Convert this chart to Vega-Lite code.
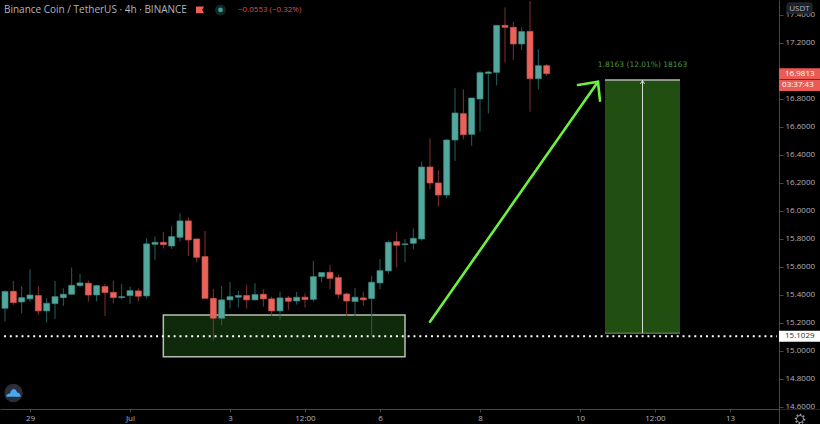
{
  "$schema": "https://vega.github.io/schema/vega-lite/v6.json",
  "width": 820,
  "height": 424,
  "padding": 0,
  "autosize": {"type": "none"},
  "background": "#000000",
  "config": {"view": {"stroke": null}, "text": {"font": "Open Sans"}},
  "datasets": {
    "candles": [
      {"t":"2020-06-28T12:00Z","open":15.303,"high":15.434,"low":15.208,"close":15.422},
      {"t":"2020-06-28T16:00Z","open":15.424,"high":15.498,"low":15.327,"close":15.344},
      {"t":"2020-06-28T20:00Z","open":15.348,"high":15.458,"low":15.267,"close":15.379},
      {"t":"2020-06-29T00:00Z","open":15.370,"high":15.582,"low":15.351,"close":15.398},
      {"t":"2020-06-29T04:00Z","open":15.394,"high":15.463,"low":15.255,"close":15.284},
      {"t":"2020-06-29T08:00Z","open":15.284,"high":15.374,"low":15.201,"close":15.339},
      {"t":"2020-06-29T12:00Z","open":15.336,"high":15.498,"low":15.227,"close":15.386},
      {"t":"2020-06-29T16:00Z","open":15.379,"high":15.446,"low":15.320,"close":15.403},
      {"t":"2020-06-29T20:00Z","open":15.403,"high":15.594,"low":15.398,"close":15.467},
      {"t":"2020-06-30T00:00Z","open":15.465,"high":15.548,"low":15.453,"close":15.484},
      {"t":"2020-06-30T04:00Z","open":15.482,"high":15.501,"low":15.351,"close":15.398},
      {"t":"2020-06-30T08:00Z","open":15.398,"high":15.470,"low":15.351,"close":15.465},
      {"t":"2020-06-30T12:00Z","open":15.458,"high":15.477,"low":15.248,"close":15.415},
      {"t":"2020-06-30T16:00Z","open":15.417,"high":15.501,"low":15.339,"close":15.379},
      {"t":"2020-06-30T20:00Z","open":15.379,"high":15.477,"low":15.367,"close":15.386},
      {"t":"2020-07-01T00:00Z","open":15.394,"high":15.458,"low":15.334,"close":15.429},
      {"t":"2020-07-01T04:00Z","open":15.427,"high":15.446,"low":15.351,"close":15.389},
      {"t":"2020-07-01T08:00Z","open":15.391,"high":15.803,"low":15.372,"close":15.763},
      {"t":"2020-07-01T12:00Z","open":15.760,"high":15.815,"low":15.648,"close":15.774},
      {"t":"2020-07-01T16:00Z","open":15.774,"high":15.848,"low":15.729,"close":15.758},
      {"t":"2020-07-01T20:00Z","open":15.748,"high":15.891,"low":15.727,"close":15.815},
      {"t":"2020-07-02T00:00Z","open":15.810,"high":15.981,"low":15.779,"close":15.927},
      {"t":"2020-07-02T04:00Z","open":15.927,"high":15.953,"low":15.677,"close":15.791},
      {"t":"2020-07-02T08:00Z","open":15.798,"high":15.800,"low":15.632,"close":15.667},
      {"t":"2020-07-02T12:00Z","open":15.672,"high":15.855,"low":15.374,"close":15.374},
      {"t":"2020-07-02T16:00Z","open":15.374,"high":15.441,"low":15.072,"close":15.232},
      {"t":"2020-07-02T20:00Z","open":15.232,"high":15.463,"low":15.182,"close":15.363},
      {"t":"2020-07-03T00:00Z","open":15.363,"high":15.491,"low":15.301,"close":15.386},
      {"t":"2020-07-03T04:00Z","open":15.382,"high":15.427,"low":15.308,"close":15.394},
      {"t":"2020-07-03T08:00Z","open":15.394,"high":15.470,"low":15.301,"close":15.363},
      {"t":"2020-07-03T12:00Z","open":15.363,"high":15.482,"low":15.363,"close":15.401},
      {"t":"2020-07-03T16:00Z","open":15.403,"high":15.439,"low":15.315,"close":15.370},
      {"t":"2020-07-03T20:00Z","open":15.370,"high":15.386,"low":15.248,"close":15.284},
      {"t":"2020-07-04T00:00Z","open":15.284,"high":15.422,"low":15.224,"close":15.377},
      {"t":"2020-07-04T04:00Z","open":15.377,"high":15.391,"low":15.291,"close":15.353},
      {"t":"2020-07-04T08:00Z","open":15.355,"high":15.420,"low":15.329,"close":15.382},
      {"t":"2020-07-04T12:00Z","open":15.382,"high":15.410,"low":15.308,"close":15.365},
      {"t":"2020-07-04T16:00Z","open":15.367,"high":15.641,"low":15.351,"close":15.529},
      {"t":"2020-07-04T20:00Z","open":15.529,"high":15.558,"low":15.489,"close":15.558},
      {"t":"2020-07-05T00:00Z","open":15.560,"high":15.613,"low":15.439,"close":15.517},
      {"t":"2020-07-05T04:00Z","open":15.522,"high":15.546,"low":15.374,"close":15.403},
      {"t":"2020-07-05T08:00Z","open":15.405,"high":15.417,"low":15.248,"close":15.355},
      {"t":"2020-07-05T12:00Z","open":15.351,"high":15.448,"low":15.248,"close":15.382},
      {"t":"2020-07-05T16:00Z","open":15.377,"high":15.420,"low":15.322,"close":15.363},
      {"t":"2020-07-05T20:00Z","open":15.372,"high":15.534,"low":15.105,"close":15.489},
      {"t":"2020-07-06T00:00Z","open":15.484,"high":15.653,"low":15.439,"close":15.572},
      {"t":"2020-07-06T04:00Z","open":15.570,"high":15.786,"low":15.548,"close":15.774},
      {"t":"2020-07-06T08:00Z","open":15.779,"high":15.851,"low":15.594,"close":15.753},
      {"t":"2020-07-06T12:00Z","open":15.758,"high":15.798,"low":15.632,"close":15.763},
      {"t":"2020-07-06T16:00Z","open":15.767,"high":15.874,"low":15.724,"close":15.803},
      {"t":"2020-07-06T20:00Z","open":15.798,"high":16.350,"low":15.786,"close":16.312},
      {"t":"2020-07-07T00:00Z","open":16.312,"high":16.517,"low":16.153,"close":16.198},
      {"t":"2020-07-07T04:00Z","open":16.198,"high":16.291,"low":16.029,"close":16.112},
      {"t":"2020-07-07T08:00Z","open":16.112,"high":16.510,"low":16.088,"close":16.505},
      {"t":"2020-07-07T12:00Z","open":16.505,"high":16.876,"low":16.355,"close":16.698},
      {"t":"2020-07-07T16:00Z","open":16.693,"high":16.867,"low":16.510,"close":16.543},
      {"t":"2020-07-07T20:00Z","open":16.545,"high":16.805,"low":16.464,"close":16.805},
      {"t":"2020-07-08T00:00Z","open":16.798,"high":17.000,"low":16.565,"close":16.986},
      {"t":"2020-07-08T04:00Z","open":16.981,"high":17.000,"low":16.695,"close":16.991},
      {"t":"2020-07-08T08:00Z","open":16.988,"high":17.326,"low":16.895,"close":17.324},
      {"t":"2020-07-08T12:00Z","open":17.324,"high":17.453,"low":17.057,"close":17.310},
      {"t":"2020-07-08T16:00Z","open":17.310,"high":17.350,"low":17.076,"close":17.191},
      {"t":"2020-07-08T20:00Z","open":17.191,"high":17.310,"low":17.148,"close":17.279},
      {"t":"2020-07-09T00:00Z","open":17.281,"high":17.498,"low":16.707,"close":16.943},
      {"t":"2020-07-09T04:00Z","open":16.943,"high":17.153,"low":16.867,"close":17.036},
      {"t":"2020-07-09T08:00Z","open":17.036,"high":17.048,"low":16.962,"close":16.979}
    ]
  },
  "layer": [
    {
      "data": {"values": [{"start": "2020-07-01T16:00Z", "end": "2020-07-06T12:00Z", "low": 14.957, "high": 15.255}]},
      "mark": {"type": "rect", "fill": "#0f2a0a", "stroke": "#b8c0b2", "strokeWidth": 1.5},
      "encoding": {
        "x": {
          "field": "start",
          "type": "temporal",
          "title": null,
          "scale": {"type": "utc", "domain": ["2020-06-28T09:36Z", "2020-07-14T19:12Z"], "nice": false, "padding": 0},
          "axis": {
            "title": null,
            "orient": "bottom",
            "offset": -15,
            "tickCount": 30,
            "values": ["2020-06-29T00:00Z", "2020-07-01T00:00Z", "2020-07-03T00:00Z", "2020-07-04T12:00Z", "2020-07-06T00:00Z", "2020-07-08T00:00Z", "2020-07-10T00:00Z", "2020-07-11T12:00Z", "2020-07-13T00:00Z"],
            "labelExpr": "utchours(datum.value) == 12 ? '12:00' : utcdate(datum.value) == 1 ? 'Jul' : utcdate(datum.value)",
            "grid": false,
            "domainColor": "#45484e",
            "domainWidth": 1,
            "tickColor": "#45484e",
            "tickSize": 3,
            "labelColor": "#b2b5be",
            "labelFont": "Open Sans",
            "labelFontSize": 8,
            "labelPadding": 2,
            "labelOverlap": false,
            "labelFlush": false
          }
        },
        "x2": {"field": "end"},
        "y": {
          "field": "low",
          "type": "quantitative",
          "title": null,
          "scale": {"domain": [14.4764, 17.505], "nice": false, "zero": false},
          "axis": {
            "title": null,
            "orient": "right",
            "offset": -41,
            "tickCount": 30,
            "values": [14.6, 14.8, 15.0, 15.2, 15.4, 15.6, 15.8, 16.0, 16.2, 16.4, 16.6, 16.8, 17.2, 17.4],
            "format": ".4f",
            "grid": false,
            "domainColor": "#45484e",
            "domainWidth": 1,
            "tickColor": "#45484e",
            "tickSize": 4,
            "labelColor": "#b2b5be",
            "labelFont": "Open Sans",
            "labelFontSize": 8,
            "labelPadding": 2,
            "labelOverlap": false,
            "labelFlush": false
          }
        },
        "y2": {"field": "high"}
      }
    },
    {
      "data": {"name": "candles"},
      "mark": {"type": "rule", "strokeWidth": 1},
      "encoding": {
        "x": {"field": "t", "type": "temporal", "title": null},
        "y": {"field": "low", "type": "quantitative", "title": null},
        "y2": {"field": "high"},
        "color": {"condition": {"test": "datum.close >= datum.open", "value": "#21625c"}, "value": "#80332e"}
      }
    },
    {
      "data": {"name": "candles"},
      "mark": {"type": "bar", "size": 6, "strokeWidth": 0.7},
      "encoding": {
        "x": {"field": "t", "type": "temporal", "title": null},
        "y": {"field": "open", "type": "quantitative", "title": null},
        "y2": {"field": "close"},
        "fill": {"condition": {"test": "datum.close >= datum.open", "value": "#53a89e"}, "value": "#e9635b"},
        "stroke": {"condition": {"test": "datum.close >= datum.open", "value": "#3f8a81"}, "value": "#c9544d"}
      }
    },
    {
      "data": {"values": [{"start": "2020-07-10T12:00Z", "end": "2020-07-12T00:00Z", "low": 15.125, "high": 16.934}]},
      "mark": {"type": "rect", "fill": "#214f12"},
      "encoding": {
        "x": {"field": "start", "type": "temporal", "title": null},
        "x2": {"field": "end"},
        "y": {"field": "low", "type": "quantitative", "title": null},
        "y2": {"field": "high"}
      }
    },
    {
      "data": {"values": [{"start": "2020-07-10T12:00Z", "end": "2020-07-12T00:00Z", "p": 16.934}]},
      "mark": {"type": "rule", "stroke": "#b5b9b2", "strokeWidth": 1.5},
      "encoding": {
        "x": {"field": "start", "type": "temporal", "title": null},
        "x2": {"field": "end"},
        "y": {"field": "p", "type": "quantitative", "title": null}
      }
    },
    {
      "data": {"values": [{"start": "2020-07-10T12:00Z", "end": "2020-07-12T00:00Z", "p": 15.125}]},
      "mark": {"type": "rule", "stroke": "#6c9a5c", "strokeWidth": 1},
      "encoding": {
        "x": {"field": "start", "type": "temporal", "title": null},
        "x2": {"field": "end"},
        "y": {"field": "p", "type": "quantitative", "title": null}
      }
    },
    {
      "data": {"values": [
        {"part": "shaft", "t": "2020-07-11T06:00Z", "p": 15.125},
        {"part": "shaft", "t": "2020-07-11T06:00Z", "p": 16.93},
        {"part": "head", "t": "2020-07-11T05:00Z", "p": 16.905},
        {"part": "head", "t": "2020-07-11T06:00Z", "p": 16.93},
        {"part": "head", "t": "2020-07-11T07:00Z", "p": 16.905}
      ]},
      "mark": {"type": "line", "stroke": "#d6dad4", "strokeWidth": 1},
      "encoding": {
        "x": {"field": "t", "type": "temporal", "title": null},
        "y": {"field": "p", "type": "quantitative", "title": null},
        "detail": {"field": "part"}
      }
    },
    {
      "data": {"values": [{"from": "2020-06-28T11:30Z", "to": "2020-07-13T22:30Z", "p": 15.1029}]},
      "mark": {"type": "rule", "stroke": "#ffffff", "strokeWidth": 2, "strokeDash": [2, 3.85]},
      "encoding": {
        "x": {"field": "from", "type": "temporal", "title": null},
        "x2": {"field": "to"},
        "y": {"field": "p", "type": "quantitative", "title": null}
      }
    },
    {
      "data": {"values": [
        {"part": "shaft", "t": "2020-07-07T00:00Z", "p": 15.207},
        {"part": "shaft", "t": "2020-07-10T08:38Z", "p": 16.921},
        {"part": "head", "t": "2020-07-09T23:02Z", "p": 16.898},
        {"part": "head", "t": "2020-07-10T08:38Z", "p": 16.921},
        {"part": "head", "t": "2020-07-10T09:36Z", "p": 16.786}
      ]},
      "mark": {"type": "line", "stroke": "#6bf23e", "strokeWidth": 2.6, "strokeCap": "round", "strokeJoin": "miter"},
      "encoding": {
        "x": {"field": "t", "type": "temporal", "title": null},
        "y": {"field": "p", "type": "quantitative", "title": null},
        "detail": {"field": "part"}
      }
    },
    {
      "data": {"values": [{"t": "2020-07-11T06:00Z", "p": 17.04, "label": "1.8163 (12.01%) 18163"}]},
      "mark": {"type": "text", "color": "#4f9440", "fontSize": 7.5, "font": "DejaVu Sans", "align": "center", "baseline": "middle"},
      "encoding": {
        "x": {"field": "t", "type": "temporal", "title": null},
        "y": {"field": "p", "type": "quantitative", "title": null},
        "text": {"field": "label"}
      }
    },
    {
      "data": {"values": [{"t": "2020-06-28T11:30Z", "p": 17.434, "label": "Binance Coin / TetherUS · 4h · BINANCE"}]},
      "mark": {"type": "text", "color": "#b2b5be", "fontSize": 10, "align": "left", "baseline": "middle"},
      "encoding": {
        "x": {"field": "t", "type": "temporal", "title": null},
        "y": {"field": "p", "type": "quantitative", "title": null},
        "text": {"field": "label"}
      }
    },
    {
      "data": {"values": [{"t": "2020-07-03T03:50Z", "p": 17.434, "label": "−0.0553 (−0.32%)"}]},
      "mark": {"type": "text", "color": "#d9534f", "fontSize": 8, "align": "left", "baseline": "middle"},
      "encoding": {
        "x": {"field": "t", "type": "temporal", "title": null},
        "y": {"field": "p", "type": "quantitative", "title": null},
        "text": {"field": "label"}
      }
    },
    {
      "data": {"values": [{"t": "2020-07-02T09:36Z", "p": 17.434}]},
      "mark": {"type": "point", "filled": true, "fill": "#ef5f58", "opacity": 1, "size": 64, "shape": "M-1,-0.85L1,-0.85L0.55,0L1,0.85L-1,0.85Z"},
      "encoding": {
        "x": {"field": "t", "type": "temporal", "title": null},
        "y": {"field": "p", "type": "quantitative", "title": null}
      }
    },
    {
      "data": {"values": [{"t": "2020-07-02T19:26Z", "p": 17.434}]},
      "mark": {"type": "circle", "fill": "#132625", "opacity": 1, "size": 120},
      "encoding": {
        "x": {"field": "t", "type": "temporal", "title": null},
        "y": {"field": "p", "type": "quantitative", "title": null}
      }
    },
    {
      "data": {"values": [{"t": "2020-07-02T19:26Z", "p": 17.434}]},
      "mark": {"type": "circle", "fill": "#35a597", "opacity": 1, "size": 22},
      "encoding": {
        "x": {"field": "t", "type": "temporal", "title": null},
        "y": {"field": "p", "type": "quantitative", "title": null}
      }
    },
    {
      "data": {"values": [{"t": "2020-06-28T16:05Z", "p": 14.698}]},
      "mark": {"type": "circle", "fill": "#2a2e39", "opacity": 1, "size": 340},
      "encoding": {
        "x": {"field": "t", "type": "temporal", "title": null},
        "y": {"field": "p", "type": "quantitative", "title": null}
      }
    },
    {
      "data": {"values": [{"t": "2020-06-28T16:05Z", "p": 14.698}]},
      "mark": {"type": "point", "filled": true, "fill": "#4aa6f2", "stroke": "#2a2e39", "strokeWidth": 0.6, "opacity": 1, "size": 225, "shape": "M-1,0.55C-1,0.2 -0.8,0.05 -0.5,0.05C-0.4,-0.3 -0.2,-0.55 0.05,-0.55C0.3,-0.55 0.45,-0.3 0.5,-0.1C0.8,-0.05 1,0.2 1,0.55Z"},
      "encoding": {
        "x": {"field": "t", "type": "temporal", "title": null},
        "y": {"field": "p", "type": "quantitative", "title": null}
      }
    },
    {
      "data": {"values": [{"start": "2020-07-14T00:00Z", "end": "2020-07-14T19:12Z", "low": 14.4764, "high": 14.58}]},
      "mark": {"type": "rect", "fill": "#000000"},
      "encoding": {
        "x": {"field": "start", "type": "temporal", "title": null},
        "x2": {"field": "end"},
        "y": {"field": "low", "type": "quantitative", "title": null},
        "y2": {"field": "high"}
      }
    },
    {
      "data": {"values": [{"t": "2020-07-14T09:36Z", "p": 14.512}]},
      "mark": {"type": "point", "filled": false, "stroke": "#9a9da5", "strokeWidth": 1, "opacity": 1, "size": 50, "shape": "circle"},
      "encoding": {
        "x": {"field": "t", "type": "temporal", "title": null},
        "y": {"field": "p", "type": "quantitative", "title": null}
      }
    },
    {
      "data": {"values": [{"t": "2020-07-14T09:36Z", "p": 14.512}]},
      "mark": {"type": "point", "filled": false, "stroke": "#9a9da5", "strokeWidth": 1.5, "strokeDash": [1.5, 2], "opacity": 1, "size": 85, "shape": "circle"},
      "encoding": {
        "x": {"field": "t", "type": "temporal", "title": null},
        "y": {"field": "p", "type": "quantitative", "title": null}
      }
    },
    {
      "data": {"values": [{"start": "2020-07-14T03:22Z", "end": "2020-07-14T15:22Z", "low": 17.41, "high": 17.484}]},
      "mark": {"type": "rect", "fill": "#1c202b", "stroke": "#2a2e39", "cornerRadius": 2},
      "encoding": {
        "x": {"field": "start", "type": "temporal", "title": null},
        "x2": {"field": "end"},
        "y": {"field": "low", "type": "quantitative", "title": null},
        "y2": {"field": "high"}
      }
    },
    {
      "data": {"values": [{"t": "2020-07-14T09:20Z", "p": 17.444, "label": "USDT"}]},
      "mark": {"type": "text", "color": "#b2b5be", "fontSize": 8, "align": "center", "baseline": "middle"},
      "encoding": {
        "x": {"field": "t", "type": "temporal", "title": null},
        "y": {"field": "p", "type": "quantitative", "title": null},
        "text": {"field": "label"}
      }
    },
    {
      "data": {"values": [
        {"start": "2020-07-13T23:30Z", "end": "2020-07-14T19:12Z", "low": 16.937, "high": 17.017},
        {"start": "2020-07-13T23:30Z", "end": "2020-07-14T19:12Z", "low": 16.855, "high": 16.934}
      ]},
      "mark": {"type": "rect", "fill": "#ea5b55"},
      "encoding": {
        "x": {"field": "start", "type": "temporal", "title": null},
        "x2": {"field": "end"},
        "y": {"field": "low", "type": "quantitative", "title": null},
        "y2": {"field": "high"}
      }
    },
    {
      "data": {"values": [{"start": "2020-07-13T23:30Z", "end": "2020-07-14T19:12Z", "low": 15.064, "high": 15.143}]},
      "mark": {"type": "rect", "fill": "#ffffff"},
      "encoding": {
        "x": {"field": "start", "type": "temporal", "title": null},
        "x2": {"field": "end"},
        "y": {"field": "low", "type": "quantitative", "title": null},
        "y2": {"field": "high"}
      }
    },
    {
      "data": {"values": [
        {"t": "2020-07-14T02:24Z", "p": 16.977, "label": "16.9813"},
        {"t": "2020-07-14T01:00Z", "p": 16.895, "label": "03:37:43"}
      ]},
      "mark": {"type": "text", "color": "#ffffff", "fontSize": 8, "align": "left", "baseline": "middle"},
      "encoding": {
        "x": {"field": "t", "type": "temporal", "title": null},
        "y": {"field": "p", "type": "quantitative", "title": null},
        "text": {"field": "label"}
      }
    },
    {
      "data": {"values": [{"t": "2020-07-14T02:24Z", "p": 15.103, "label": "15.1029"}]},
      "mark": {"type": "text", "color": "#2a2e39", "fontSize": 8, "align": "left", "baseline": "middle"},
      "encoding": {
        "x": {"field": "t", "type": "temporal", "title": null},
        "y": {"field": "p", "type": "quantitative", "title": null},
        "text": {"field": "label"}
      }
    }
  ]
}
